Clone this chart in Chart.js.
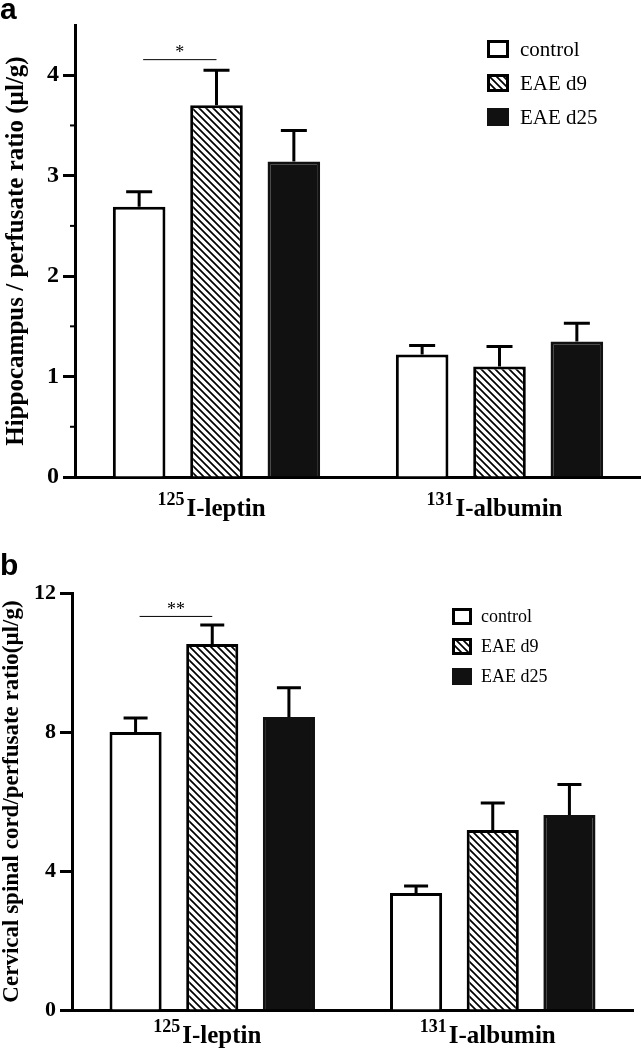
<!DOCTYPE html>
<html>
<head>
<meta charset="utf-8">
<script src="https://cdn.jsdelivr.net/npm/chart.js@4.4.0/dist/chart.umd.min.js"></script>
<style>
  body { margin: 0; background: #fff; width: 641px; height: 1050px; position: relative; overflow: hidden; }
  canvas { position: absolute; left: 0; }
  #chartA { top: 0; }
  #chartB { top: 520px; }
</style>
</head>
<body>
<canvas id="chartA" width="641" height="530"></canvas>
<canvas id="chartB" width="641" height="530"></canvas>
<script>
// Data
const categories = ['I-leptin', 'I-albumin'];
const isotopes = ['125', '131'];
const groups = ['control', 'EAE d9', 'EAE d25'];

// panel a - hippocampus / perfusate ratio
const hippoControl = [2.69, 1.22];
const hippoD9 = [3.70, 1.10];
const hippoD25 = [3.14, 1.35];
const hippoControlErr = [0.15, 0.09];
const hippoD9Err = [0.35, 0.20];
const hippoD25Err = [0.31, 0.18];
const hippoTicks = [0, 1, 2, 3, 4];
const hippoMinorTicks = [0.5, 1.5, 2.5, 3.5];
const hippoSig = { category: 0, from: 0, to: 1, value: 4.16, label: '*' };

// panel b - cervical spinal cord / perfusate ratio
const cordControl = [8.00, 3.37];
const cordD9 = [10.53, 5.18];
const cordD25 = [8.43, 5.61];
const cordControlErr = [0.40, 0.20];
const cordD9Err = [0.55, 0.78];
const cordD25Err = [0.84, 0.88];
const cordTicks = [0, 4, 8, 12];
const cordSig = { category: 0, from: 0, to: 1, value: 11.34, label: '**' };

const SERIF = '"Liberation Serif", "Times New Roman", serif';

// Hatch fill (\\\ stripes)
function makeHatch(ctx) {
    const s = 7;
    const c = document.createElement('canvas');
    c.width = s; c.height = s;
    const g = c.getContext('2d');
    g.fillStyle = '#fff';
    g.fillRect(0, 0, s, s);
    g.strokeStyle = '#000';
    g.lineWidth = 1.7;
    g.beginPath();
    g.moveTo(-1, -1); g.lineTo(s + 1, s + 1);
    g.moveTo(-1, s - 1); g.lineTo(1, s + 1);
    g.moveTo(s - 1, -1); g.lineTo(s + 1, 1);
    g.stroke();
    return ctx.createPattern(c, 'repeat');
}

// Error bars (upper only)
const errorBars = {
    id: 'errorBars',
    afterDatasetsDraw(chart, args, opts) {
        const { ctx } = chart;
        const y = chart.scales.y;
        ctx.save();
        ctx.strokeStyle = '#000';
        ctx.lineWidth = 3;
        chart.data.datasets.forEach((ds, di) => {
            chart.getDatasetMeta(di).data.forEach((bar, i) => {
                const top = y.getPixelForValue(ds.data[i] + ds.errors[i]);
                ctx.beginPath();
                ctx.moveTo(bar.x, bar.y);
                ctx.lineTo(bar.x, top);
                ctx.moveTo(bar.x - opts.cap / 2, top);
                ctx.lineTo(bar.x + opts.cap / 2, top);
                ctx.stroke();
            });
        });
        ctx.restore();
    }
};

// Significance line + stars
const sigMark = {
    id: 'sigMark',
    afterDatasetsDraw(chart, args, opts) {
        const s = opts.sig;
        const { ctx } = chart;
        const x1 = chart.getDatasetMeta(s.from).data[s.category].x + 4;
        const x2 = chart.getDatasetMeta(s.to).data[s.category].x;
        const yy = chart.scales.y.getPixelForValue(s.value);
        ctx.save();
        ctx.strokeStyle = '#000';
        ctx.lineWidth = 1;
        ctx.beginPath();
        ctx.moveTo(x1, yy + 0.5);
        ctx.lineTo(x2, yy + 0.5);
        ctx.stroke();
        ctx.fillStyle = '#000';
        ctx.font = '18px ' + SERIF;
        ctx.textAlign = 'center';
        ctx.textBaseline = 'alphabetic';
        ctx.fillText(s.label, (x1 + x2) / 2, yy - 1);
        ctx.restore();
    }
};

// Minor ticks on the y axis
const minorTicks = {
    id: 'minorTicks',
    afterDraw(chart, args, opts) {
        if (!opts.values) return;
        const { ctx } = chart;
        const y = chart.scales.y;
        const x0 = chart.chartArea.left;
        ctx.save();
        ctx.strokeStyle = '#000';
        ctx.lineWidth = 2;
        opts.values.forEach(v => {
            const py = y.getPixelForValue(v);
            ctx.beginPath();
            ctx.moveTo(x0 - 5, py);
            ctx.lineTo(x0, py);
            ctx.stroke();
        });
        ctx.restore();
    }
};

// Category labels with superscript isotope numbers
const isoLabels = {
    id: 'isoLabels',
    afterDraw(chart, args, opts) {
        const { ctx } = chart;
        const x = chart.scales.x;
        ctx.save();
        ctx.fillStyle = '#000';
        ctx.textBaseline = 'alphabetic';
        ctx.textAlign = 'left';
        categories.forEach((name, i) => {
            const cx = x.getPixelForValue(i);
            ctx.font = 'bold ' + opts.supSize + 'px ' + SERIF;
            const w1 = ctx.measureText(isotopes[i]).width;
            ctx.font = 'bold ' + opts.size + 'px ' + SERIF;
            const w2 = ctx.measureText(name).width;
            const left = cx - (w1 + w2) / 2 + opts.shift;
            ctx.fillText(name, left + w1 + 2, opts.y);
            ctx.font = 'bold ' + opts.supSize + 'px ' + SERIF;
            ctx.fillText(isotopes[i], left, opts.y - opts.raise);
        });
        ctx.restore();
    }
};

// Legend boxes + panel letter
const boxLegend = {
    id: 'boxLegend',
    afterDraw(chart, args, o) {
        const { ctx } = chart;
        ctx.save();
        chart.data.datasets.forEach((ds, i) => {
            const top = o.y + i * o.gap;
            ctx.fillStyle = ds.backgroundColor;
            ctx.fillRect(o.x, top, o.w, o.h);
            ctx.strokeStyle = ds.borderColor;
            ctx.lineWidth = 3;
            ctx.strokeRect(o.x + 1.5, top + 1.5, o.w - 3, o.h - 3);
            ctx.fillStyle = '#000';
            ctx.font = o.size + 'px ' + SERIF;
            ctx.textBaseline = 'middle';
            ctx.textAlign = 'left';
            ctx.fillText(ds.label, o.textX, top + o.h / 2 + 1);
        });
        ctx.font = 'bold 30px "Liberation Sans", Arial, sans-serif';
        ctx.textBaseline = 'alphabetic';
        ctx.fillText(o.panel, 0, o.panelY);
        ctx.restore();
    }
};

function buildChart(canvasId, cfg) {
    const ctx = document.getElementById(canvasId).getContext('2d');
    const hatch = makeHatch(ctx);
    return new Chart(ctx, {
        type: 'bar',
        data: {
            labels: categories,
            datasets: [{
                label: groups[0],
                data: cfg.values[0],
                errors: cfg.errors[0],
                backgroundColor: '#fff',
                borderColor: '#000',
                borderWidth: 3
            }, {
                label: groups[1],
                data: cfg.values[1],
                errors: cfg.errors[1],
                backgroundColor: hatch,
                borderColor: '#000',
                borderWidth: 3
            }, {
                label: groups[2],
                data: cfg.values[2],
                errors: cfg.errors[2],
                backgroundColor: '#111',
                borderColor: '#111',
                borderWidth: 3
            }]
        },
        options: {
            responsive: false,
            animation: false,
            layout: { padding: { top: cfg.padTop, right: cfg.padRight, left: 0, bottom: cfg.padBottom } },
            datasets: { bar: { categoryPercentage: 0.82, barPercentage: 0.68, borderSkipped: 'bottom' } },
            plugins: {
                legend: { display: false },
                tooltip: { enabled: false },
                errorBars: { cap: cfg.cap },
                sigMark: { sig: cfg.sig },
                minorTicks: { values: cfg.minor },
                isoLabels: cfg.labels,
                boxLegend: cfg.legend
            },
            scales: {
                x: {
                    grid: { display: false },
                    border: { color: '#000', width: 3 },
                    ticks: { display: false },
                    afterFit(s) { s.height = cfg.xHeight; }
                },
                y: {
                    min: 0,
                    max: cfg.max,
                    afterBuildTicks(s) { s.ticks = cfg.ticks.map(v => ({ value: v })); },
                    grid: { drawOnChartArea: false, drawTicks: true, tickLength: 12, tickWidth: 3, tickColor: '#000' },
                    border: { color: '#000', width: 3 },
                    ticks: {
                        padding: 4,
                        color: '#000',
                        font: { family: SERIF, weight: 'bold', size: cfg.tickSize }
                    },
                    title: {
                        display: true,
                        text: cfg.title,
                        color: '#000',
                        font: { family: SERIF, weight: 'bold', size: cfg.titleSize, lineHeight: 1 },
                        padding: { top: cfg.titlePad, bottom: 0 }
                    },
                    afterFit(s) { s.width = cfg.yWidth; }
                }
            }
        },
        plugins: [errorBars, sigMark, minorTicks, isoLabels, boxLegend]
    });
}

buildChart('chartA', {
    values: [hippoControl, hippoD9, hippoD25],
    errors: [hippoControlErr, hippoD9Err, hippoD25Err],
    ticks: hippoTicks,
    minor: hippoMinorTicks,
    sig: hippoSig,
    max: 4.5,
    padTop: 25,
    padRight: 0,
    padBottom: 10,
    xHeight: 43,
    yWidth: 75,
    cap: 26,
    tickSize: 24,
    title: 'Hippocampus / perfusate ratio (\u00b5l/g)',
    titleSize: 25,
    titlePad: 4,
    labels: { size: 25, supSize: 18, raise: 11, y: 516, shift: -6 },
    legend: { x: 487, y: 40, gap: 34, w: 22, h: 18, textX: 520, size: 21, panel: 'a', panelY: 19 }
});

buildChart('chartB', {
    values: [cordControl, cordD9, cordD25],
    errors: [cordControlErr, cordD9Err, cordD25Err],
    ticks: cordTicks,
    minor: null,
    sig: cordSig,
    max: 12,
    padTop: 73,
    padRight: 8,
    padBottom: 0,
    xHeight: 40,
    yWidth: 72,
    cap: 24,
    tickSize: 22,
    title: 'Cervical spinal cord/perfusate ratio(\u00b5l/g)',
    titleSize: 23,
    titlePad: 1,
    labels: { size: 25, supSize: 18, raise: 11, y: 523, shift: -6 },
    legend: { x: 452, y: 88, gap: 30, w: 20, h: 17, textX: 481, size: 18, panel: 'b', panelY: 55 }
});
</script>
</body>
</html>
